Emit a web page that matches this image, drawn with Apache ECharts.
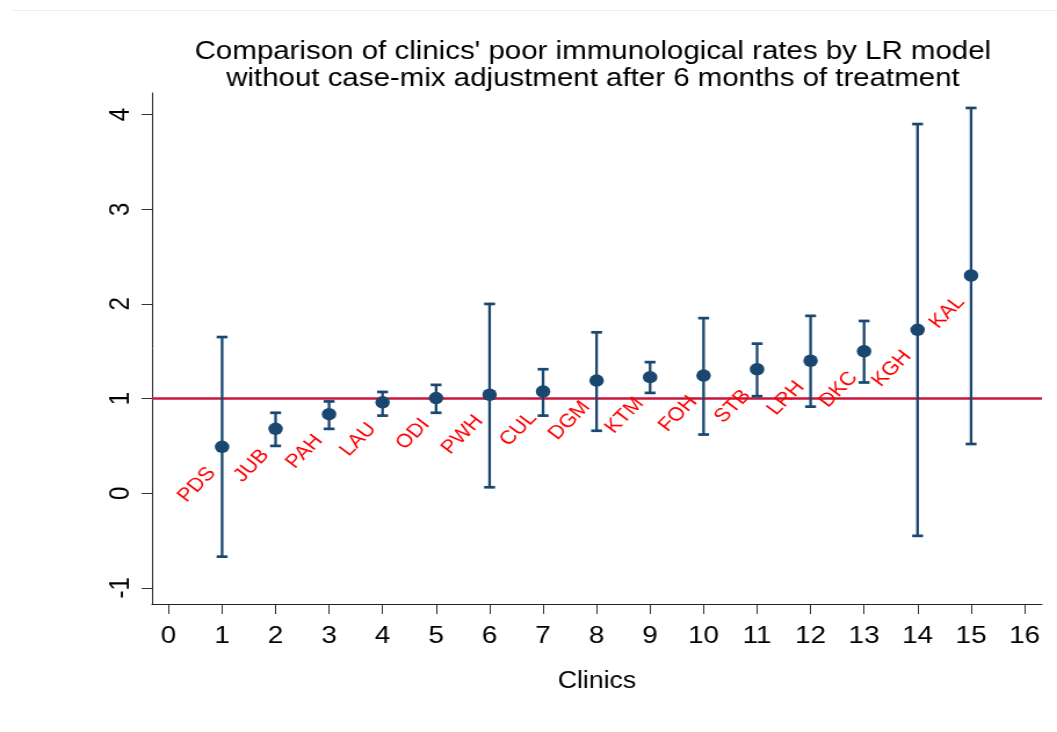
<!DOCTYPE html>
<html>
<head>
<meta charset="utf-8">
<script src="https://cdn.jsdelivr.net/npm/echarts@6/dist/echarts.min.js"></script>
<style>
html,body{margin:0;padding:0;background:#fff;overflow:hidden;}
#wrap{width:1057px;height:732px;overflow:hidden;position:relative;}
#chart{width:911px;height:732px;transform:scaleX(1.1603);transform-origin:0 0;position:absolute;left:0;top:0;}
</style>
</head>
<body>
<div id="wrap"><div id="chart"></div></div>
<script>
const clinics = ['PDS','JUB','PAH','LAU','ODI','PWH','CUL','DGM','KTM','FOH','STB','LRH','DKC','KGH','KAL'];
const rates   = [0.49, 0.68, 0.835, 0.96, 1.005, 1.04, 1.075, 1.19, 1.226, 1.243, 1.31, 1.40, 1.50, 1.726, 2.30];
const lower   = [-0.67, 0.50, 0.68, 0.82, 0.85, 0.063, 0.82, 0.66, 1.06, 0.62, 1.025, 0.915, 1.17, -0.45, 0.52];
const upper   = [1.65, 0.85, 0.97, 1.07, 1.145, 2.00, 1.31, 1.70, 1.385, 1.85, 1.58, 1.874, 1.82, 3.90, 4.07];
const xTicks  = [0,1,2,3,4,5,6,7,8,9,10,11,12,13,14,15,16];
const yTicks  = [-1,0,1,2,3,4];
const refValue = 1;

const FONT = "'Liberation Sans', Arial, sans-serif";
const NAVY = '#1a476f';

const pointData = clinics.map((c, i) => ({ name: c, value: [i + 1, rates[i]] }));
const barData = clinics.map((c, i) => [i + 1, lower[i], upper[i]]);

const chart = echarts.init(document.getElementById('chart'), null, { renderer: 'canvas' });
chart.setOption({
  backgroundColor: '#fff',
  animation: false,
  title: {
    text: "Comparison of clinics' poor immunological rates by LR model\nwithout case-mix adjustment after 6 months of treatment",
    left: 506, top: 33, textAlign: 'center',
    textStyle: { fontFamily: FONT, fontSize: 25.4, fontWeight: 'normal', color: '#000', lineHeight: 27 }
  },
  graphic: [{
    type: 'line', shape: { x1: 11, y1: 10.5, x2: 911, y2: 10.5 },
    style: { stroke: '#ececec', lineWidth: 1 }, silent: true
  }],
  grid: { left: 131, right: 13, top: 93, bottom: 128, containLabel: false },
  xAxis: {
    type: 'value', min: -0.31, max: 16.325,
    name: 'Clinics', nameLocation: 'middle', nameGap: 66,
    nameTextStyle: { fontFamily: FONT, fontSize: 23, color: '#000' },
    axisLine: { show: true, onZero: false, lineStyle: { color: '#222', width: 1 } },
    axisTick: { show: true, length: 10, customValues: xTicks, lineStyle: { color: '#333', width: 1 } },
    axisLabel: { customValues: xTicks, margin: 20, fontFamily: FONT, fontSize: 24, color: '#000' },
    splitLine: { show: false }
  },
  yAxis: {
    type: 'value', min: -1.17, max: 4.228,
    axisLine: { show: true, onZero: false, lineStyle: { color: '#222', width: 1 } },
    axisTick: { show: true, length: 9, customValues: yTicks, lineStyle: { color: '#333', width: 1 } },
    axisLabel: { customValues: yTicks, rotate: 90, margin: 15, fontFamily: FONT, fontSize: 24, color: '#000' },
    splitLine: { show: false }
  },
  series: [
    {
      type: 'custom',
      data: barData,
      z: 2,
      renderItem: function (params, api) {
        const x = api.value(0);
        const lo = api.coord([x, api.value(1)]);
        const hi = api.coord([x, api.value(2)]);
        const hw = 4.7;
        const st = { stroke: NAVY, lineWidth: 2.3 };
        return {
          type: 'group',
          children: [
            { type: 'line', shape: { x1: lo[0], y1: lo[1], x2: hi[0], y2: hi[1] }, style: st },
            { type: 'line', shape: { x1: lo[0] - hw, y1: lo[1], x2: lo[0] + hw, y2: lo[1] }, style: { stroke: NAVY, lineWidth: 2.7 } },
            { type: 'line', shape: { x1: hi[0] - hw, y1: hi[1], x2: hi[0] + hw, y2: hi[1] }, style: { stroke: NAVY, lineWidth: 2.7 } }
          ]
        };
      }
    },
    {
      type: 'scatter',
      data: pointData,
      symbol: 'circle',
      symbolSize: 12.5,
      z: 3,
      itemStyle: { color: NAVY, opacity: 1 },
      label: {
        show: true,
        formatter: p => p.name,
        position: [-2.6, 29.5],
        align: 'right',
        verticalAlign: 'middle',
        rotate: 49,
        fontFamily: FONT,
        fontSize: 19,
        color: '#ff0000'
      },
      markLine: {
        silent: true,
        symbol: 'none',
        label: { show: false },
        lineStyle: { color: '#c8173d', width: 2.5, type: 'solid' },
        data: [{ yAxis: refValue }],
        z: 1
      }
    }
  ]
});
</script>
</body>
</html>
